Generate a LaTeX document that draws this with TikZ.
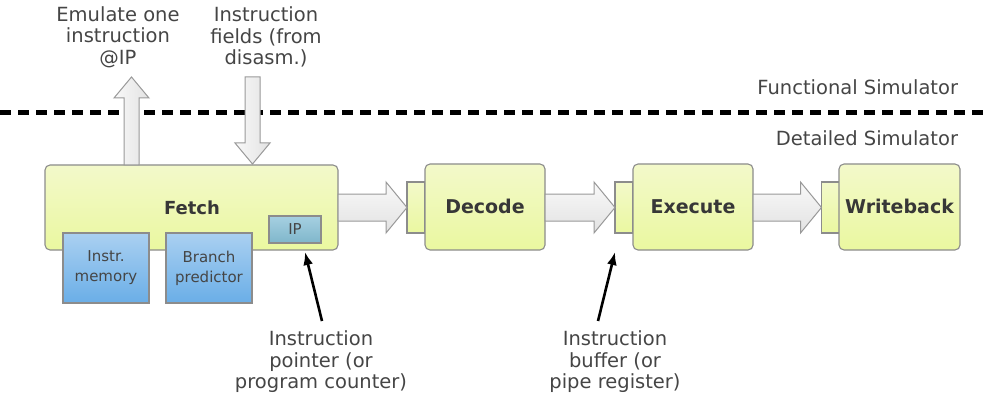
\documentclass[tikz,border=0pt]{standalone}
\usepackage{fontspec}
\setmainfont{DejaVu Sans}
\usetikzlibrary{calc,arrows.meta}

\definecolor{txt}{HTML}{454545}
\definecolor{boxline}{HTML}{8C8C8C}
\definecolor{stagetop}{HTML}{F3F9CA}
\definecolor{stagebot}{HTML}{EAF8A0}
\definecolor{bluetop}{HTML}{AAD0F1}
\definecolor{bluebot}{HTML}{6AAEE7}
\definecolor{iptop}{HTML}{A6D0E1}
\definecolor{ipbot}{HTML}{7FB6CB}
\definecolor{arrlight}{HTML}{F9F9F9}
\definecolor{arrdark}{HTML}{E2E2E2}
\definecolor{arrline}{HTML}{999999}

% horizontal block arrow from #1 to #2 (shaft half 13.5, head half 25.5, head 21)
\newcommand\hblockarrow[2]{%
  \path[blockarrow,top color=arrlight,bottom color=arrdark]
    let \p1=(#1), \p2=(#2) in
    (\x1,\y2+13.5pt) -- (\x2-21pt,\y2+13.5pt) -- (\x2-21pt,\y2+25.5pt)
    -- (\x2,\y2) -- (\x2-21pt,\y2-25.5pt) -- (\x2-21pt,\y2-13.5pt)
    -- (\x1,\y2-13.5pt) -- cycle;}
% vertical block arrow from #1 to #2 (shaft half 7.5, head half 17.5, head 21)
\newcommand\vblockarrow[2]{%
  \path[blockarrow,left color=arrlight,right color=arrdark]
    let \p1=(#1), \p2=(#2), \n1={ifthenelse(\y2>\y1,1,-1)} in
    (\x1-7.5pt,\y1) -- (\x1-7.5pt,\y2-\n1*21pt) -- (\x1-17.5pt,\y2-\n1*21pt)
    -- (\x1,\y2) -- (\x1+17.5pt,\y2-\n1*21pt) -- (\x1+7.5pt,\y2-\n1*21pt)
    -- (\x1+7.5pt,\y1) -- cycle;}

\begin{document}
\begin{tikzpicture}[x=1pt,y=-1pt,
  every node/.style={text=txt,inner sep=0pt,outer sep=0pt},
  label/.style={font=\fontsize{19.5}{21.5}\selectfont,align=center},
  stagetext/.style={font=\fontsize{19}{21}\selectfont\bfseries,text=txt!80!black,
    text height=13.9pt,text depth=0pt},
  stage/.style={draw=boxline,line width=1.1pt,rounded corners=5pt,
    top color=stagetop,bottom color=stagebot,stagetext},
  latch/.style={draw=boxline,line width=1.1pt,
    top color=stagetop,bottom color=stagebot,
    minimum width=18pt,minimum height=51pt},
  unit/.style={draw=boxline,line width=1.1pt,top color=bluetop,bottom color=bluebot,
    minimum width=86pt,minimum height=70pt,
    font=\fontsize{15}{20}\selectfont,align=center,text=txt},
  blockarrow/.style={draw=arrline,line width=1pt,line join=miter},
  pointer/.style={line width=2.6pt,-{Latex[length=13pt,width=10pt]}},
  sep/.style={line width=5pt,dash pattern=on 11pt off 7pt}
]
\useasboundingbox (0,0) rectangle (984,398);

% simulator boundary
\coordinate (sepL) at (0,113);
\coordinate (sepR) at (984,113);
\draw[sep] (sepL) -- (sepR);
\node[label,anchor=east] (func) at (958,87) {Functional Simulator};
\node[label,anchor=east] (detail) at (958,138) {Detailed Simulator};

% pipeline stages
\node[stage,minimum width=293pt,minimum height=85pt] (fetch) at (191.5,207.5) {};
\node[stagetext,font=\fontsize{18}{21}\selectfont\bfseries,text height=13.2pt] (fetchlbl) at (192,207.5) {Fetch};
\node[unit] (imem) at (106,268) {Instr.\\memory};
\node[unit] (bpred) at (209,268) {Branch\\predictor};
\node[draw=boxline,line width=1.1pt,top color=iptop,bottom color=ipbot,
  minimum width=52pt,minimum height=27pt,font=\fontsize{15}{18}\selectfont] (ip) at (295,229.5) {IP};

\node[latch] (declatch) at (416,207.5) {};
\node[stage,minimum width=120pt,minimum height=86pt] (decode) at (485,207) {Decode};
\node[latch] (exlatch) at (624,207.5) {};
\node[stage,minimum width=120pt,minimum height=86pt] (execute) at (693,207) {Execute};
\node[latch] (wblatch) at (830.5,207.5) {};
\node[stage,minimum width=121pt,minimum height=86pt] (writeback) at (899.5,207) {Writeback};

% stage-to-stage transfers
\hblockarrow{fetch.east}{declatch.west}
\hblockarrow{decode.east}{exlatch.west}
\hblockarrow{execute.east}{wblatch.west}

% exchanges with the functional simulator
\node[label] (emul) at (118,37) {Emulate one\\instruction\\@IP};
\node[label] (fields) at (266,37) {Instruction\\fields (from\\disasm.)};
\coordinate (upbase) at (131.5,165);
\coordinate (uptip) at (131.5,77);
\coordinate (dntop) at (252.5,77);
\coordinate (dntip) at (252.5,164);
\vblockarrow{upbase}{uptip}
\vblockarrow{dntop}{dntip}

% annotations
\node[label] (ipnote) at (321,362) {Instruction\\pointer (or\\program counter)};
\node[label] (bufnote) at (615,362) {Instruction\\buffer (or\\pipe register)};
\coordinate (iptail) at (322,321);
\coordinate (ipend) at (305,252);
\coordinate (buftail) at (598,321);
\coordinate (bufend) at (615,252);
\draw[pointer] (iptail) -- (ipend);
\draw[pointer] (buftail) -- (bufend);
\end{tikzpicture}
\end{document}
